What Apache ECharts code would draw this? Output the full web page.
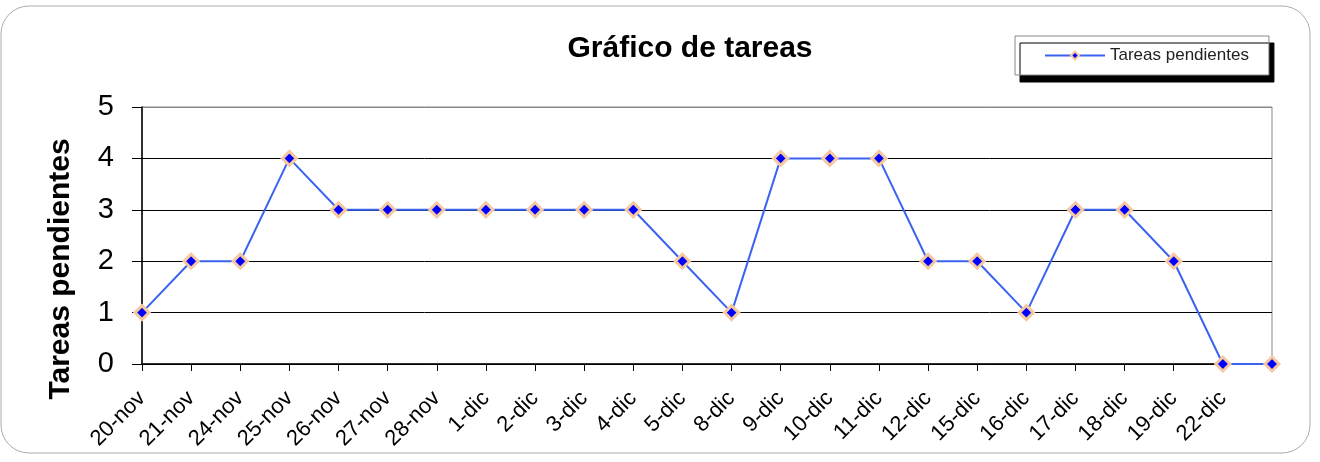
<!DOCTYPE html>
<html>
<head>
<meta charset="utf-8">
<script src="https://cdn.jsdelivr.net/npm/echarts@6/dist/echarts.min.js"></script>
<style>
  html, body { margin: 0; padding: 0; background: #fff; }
  #chart { width: 1320px; height: 462px; }
</style>
</head>
<body>
<div id="chart"></div>
<script>
var dias = ["20-nov", "21-nov", "24-nov", "25-nov", "26-nov", "27-nov", "28-nov",
    "1-dic", "2-dic", "3-dic", "4-dic", "5-dic", "8-dic", "9-dic", "10-dic", "11-dic",
    "12-dic", "15-dic", "16-dic", "17-dic", "18-dic", "19-dic", "22-dic", ""];
var pendientes = [1, 2, 2, 4, 3, 3, 3, 3, 3, 3, 3, 2, 1, 4, 4, 4, 2, 2, 1, 3, 3, 2, 0, 0];

var chart = echarts.init(document.getElementById("chart"));
var fuente = "Liberation Sans, Arial, sans-serif";

var option = {
    animation: false,
    title: {
        text: "Gráfico de tareas",
        left: 685,
        textAlign: "center",
        top: 29,
        textStyle: {fontFamily: fuente, fontSize: 30, fontWeight: "bold", color: "#000"}
    },
    legend: {
        left: 1015,
        top: 36,
        padding: [11, 20, 11, 29],
        itemWidth: 60,
        itemHeight: 10,
        itemGap: 5,
        backgroundColor: "#fff",
        borderColor: "#888",
        borderWidth: 1,
        shadowColor: "#000",
        shadowBlur: 0,
        shadowOffsetX: 5,
        shadowOffsetY: 7,
        textStyle: {fontFamily: fuente, fontSize: 17, color: "#222"},
        data: ["Tareas pendientes"]
    },
    graphic: [{
        type: "rect",
        shape: {x: 1, y: 6, width: 1309, height: 447, r: 28},
        style: {fill: null, stroke: "#aaa", lineWidth: 1},
        z: -1
    }, {
        type: "text",
        x: 61,
        y: 269,
        rotation: Math.PI / 2,
        style: {
            text: "Tareas pendientes",
            font: "bold 30px " + fuente,
            fill: "#000",
            textAlign: "center",
            textVerticalAlign: "middle"
        }
    }],
    grid: {
        left: 142, top: 107, right: 48, bottom: 98,
        containLabel: false,
        outerBoundsMode: "none",
        show: true, borderColor: "#888", borderWidth: 1
    },
    xAxis: {
        type: "category",
        data: dias,
        boundaryGap: false,
        axisLine: {lineStyle: {color: "#000", width: 1.5}},
        axisTick: {show: true, length: 7, lineStyle: {color: "#000"}},
        axisLabel: {
            rotate: 45, interval: 0, margin: 31,
            fontFamily: fuente, fontSize: 22, color: "#000"
        },
        splitLine: {show: false}
    },
    yAxis: {
        type: "value",
        min: 0, max: 5, interval: 1,
        axisLine: {show: true, lineStyle: {color: "#000", width: 1.5}},
        axisTick: {show: true, length: 10, lineStyle: {color: "#000"}},
        axisLabel: {margin: 28, fontFamily: fuente, fontSize: 29, color: "#000"},
        splitLine: {show: true, lineStyle: {color: ["#000", "#000", "#000", "#000", "#000", "#888"], width: 1}}
    },
    series: [{
        name: "Tareas pendientes",
        type: "line",
        data: pendientes,
        symbol: "diamond",
        symbolSize: 14,
        lineStyle: {color: "#3a63f0", width: 2},
        itemStyle: {color: "#0000ff", borderColor: "#f6c8a0", borderWidth: 3}
    }]
};

chart.setOption(option);
</script>
</body>
</html>
